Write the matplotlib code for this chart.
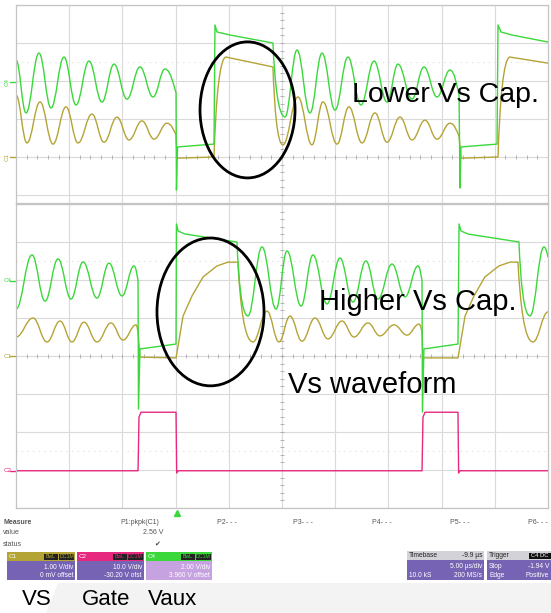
import numpy as np
import matplotlib
matplotlib.use("Agg")
import matplotlib.pyplot as plt
from matplotlib.path import Path
from matplotlib.patches import PathPatch, Ellipse, Rectangle, Polygon

plt.rcParams['font.family'] = ['Liberation Sans', 'DejaVu Sans']

W, H = 551, 613

# channel settings (V/div, offset V)
c1_scale, c1_offset = 1.0, 0.0
c2_scale, c2_offset = 10.0, -30.20
c4_scale, c4_offset = 2.0, 3.960

# traces: (time us, volts, segment kind)  s = ringing, e = ease out, r = edge with rounding, l = line
# upper shot: lower Vs cap
top_c4 = [
    (0.00, 1.15, 'l'), (0.94, -1.64, 's'), (2.16, 1.51, 's'), (3.29, -1.38, 's'),
    (4.51, 1.30, 's'), (5.64, -1.22, 's'), (6.86, 1.09, 's'), (8.08, -1.07, 's'),
    (9.21, 0.93, 's'), (10.43, -0.91, 's'), (11.65, 0.78, 's'), (12.88, -0.80, 's'),
    (14.00, 0.67, 's'), (15.04, -0.59, 'e'), (15.08, -5.70, 'l'), (15.18, -3.43, 'l'),
    (18.61, -3.28, 'l'), (18.70, 2.99, 'l'), (18.89, 2.62, 'l'), (20.11, 2.46, 'l'),
    (24.15, 2.04, 'l'), (25.28, -1.85, 'r'), (26.41, 1.67, 's'), (27.63, -1.64, 's'),
    (28.76, 1.51, 's'), (29.98, -1.49, 's'), (31.20, 1.30, 's'), (32.42, -1.22, 's'),
    (33.65, 1.09, 's'), (34.87, -1.07, 's'), (35.90, 0.93, 's'), (37.22, -0.91, 's'),
    (38.34, 0.78, 's'), (39.57, -0.80, 's'), (40.79, 0.62, 's'), (41.64, -0.70, 'e'),
    (41.73, -5.59, 'l'), (41.82, -3.43, 'l'), (45.21, -3.28, 'l'), (45.30, 2.99, 'l'),
    (45.58, 2.62, 'l'), (46.62, 2.46, 'l'), (50.00, 2.09, 'l'),
]
top_c1 = [
    (0.00, 1.63, 'l'), (1.03, 0.37, 's'), (2.26, 1.45, 's'), (3.48, 0.34, 's'),
    (4.70, 1.32, 's'), (5.83, 0.37, 's'), (7.14, 1.13, 's'), (8.27, 0.39, 's'),
    (9.49, 1.05, 's'), (10.62, 0.45, 's'), (11.84, 0.95, 's'), (12.97, 0.47, 's'),
    (14.19, 0.89, 's'), (15.04, 0.58, 'e'), (15.13, -0.03, 'l'), (18.61, 0.00, 'l'),
    (19.74, 2.63, 'r'), (24.15, 2.37, 'l'), (25.09, 0.32, 'r'), (26.50, 1.58, 's'),
    (27.82, 0.32, 's'), (28.85, 1.45, 's'), (30.17, 0.34, 's'), (31.29, 1.32, 's'),
    (32.52, 0.37, 's'), (33.74, 1.16, 's'), (34.87, 0.39, 's'), (36.09, 1.05, 's'),
    (37.22, 0.45, 's'), (38.44, 0.97, 's'), (39.57, 0.47, 's'), (40.79, 0.89, 's'),
    (41.64, 0.55, 'e'), (41.82, -0.03, 'l'), (45.30, 0.00, 'l'), (46.43, 2.63, 'r'),
    (50.00, 2.47, 'l'),
]

# lower shot: higher Vs cap
bot_c4 = [
    (0.00, -1.49, 'l'), (1.50, 1.36, 's'), (2.73, -1.07, 's'), (3.95, 1.15, 's'),
    (5.17, -0.96, 's'), (6.30, 0.99, 's'), (7.61, -0.91, 's'), (8.74, 0.93, 's'),
    (9.96, -0.80, 's'), (11.09, 0.78, 's'), (11.47, -0.01, 'e'), (11.51, -6.75, 'l'),
    (11.65, -3.59, 'l'), (15.04, -3.33, 'l'), (15.08, 2.99, 'l'), (15.23, 2.62, 'l'),
    (15.88, 2.46, 'l'), (20.77, 2.04, 'l'), (21.80, -1.85, 'r'), (23.12, 1.78, 's'),
    (24.44, -1.49, 's'), (25.47, 1.57, 's'), (26.79, -1.33, 's'), (27.91, 1.36, 's'),
    (29.23, -1.22, 's'), (30.45, 1.20, 's'), (31.67, -1.12, 's'), (32.89, 1.04, 's'),
    (34.02, -0.96, 's'), (35.34, 0.88, 's'), (36.56, -0.85, 's'), (37.78, 0.78, 's'),
    (38.16, -0.01, 'e'), (38.20, -6.91, 'l'), (38.34, -3.59, 'l'), (41.54, -3.33, 'l'),
    (41.64, 2.99, 'l'), (41.82, 2.62, 'l'), (42.48, 2.46, 'l'), (47.27, 2.04, 'l'),
    (48.31, -1.85, 'r'), (49.62, 1.78, 's'), (50.00, 1.25, 'e'),
]
bot_c1 = [
    (0.00, 0.50, 'l'), (1.60, 1.00, 's'), (2.91, 0.37, 's'), (4.14, 0.92, 's'),
    (5.26, 0.37, 's'), (6.39, 0.89, 's'), (7.61, 0.37, 's'), (8.93, 0.87, 's'),
    (10.06, 0.42, 's'), (11.28, 0.82, 's'), (11.47, 0.63, 'e'), (11.65, -0.03, 'l'),
    (15.04, -0.05, 'l'), (15.23, 0.26, 'l'), (15.70, 1.05, 'l'), (16.54, 1.58, 'l'),
    (17.58, 2.08, 'l'), (18.89, 2.37, 'l'), (19.92, 2.47, 'l'), (20.86, 2.47, 'l'),
    (22.27, 0.37, 'r'), (23.59, 1.18, 's'), (24.72, 0.37, 's'), (25.75, 1.05, 's'),
    (26.88, 0.39, 's'), (28.10, 1.00, 's'), (29.32, 0.45, 's'), (30.64, 0.92, 's'),
    (31.77, 0.50, 's'), (33.08, 0.87, 's'), (34.21, 0.53, 's'), (35.53, 0.82, 's'),
    (36.75, 0.55, 's'), (37.88, 0.84, 's'), (38.16, 0.63, 'e'), (38.25, -0.05, 'l'),
    (41.54, -0.05, 'l'), (41.73, 0.26, 'l'), (42.20, 1.05, 'l'), (43.04, 1.58, 'l'),
    (44.07, 2.08, 'l'), (45.39, 2.37, 'l'), (46.43, 2.47, 'l'), (47.18, 2.47, 'l'),
    (48.59, 0.37, 'r'), (50.00, 1.16, 's'),
]
bot_c2 = [
    (0.00, 0.0, 'l'), (11.47, 0.0, 'l'), (11.56, 14.1, 'l'), (11.75, 15.4, 'l'),
    (15.04, 15.4, 'l'), (15.10, -0.6, 'l'), (15.23, 0.0, 'l'), (38.16, 0.0, 'l'),
    (38.25, 14.1, 'l'), (38.44, 15.4, 'l'), (41.54, 15.4, 'l'), (41.60, -0.6, 'l'),
    (41.73, 0.0, 'l'), (50.00, 0.0, 'l'),
]

measure_slots = ['P2- - -', 'P3- - -', 'P4- - -', 'P5- - -', 'P6- - -']
channel_names = ['C1', 'C2', 'C4']
channel_vdiv = ['1.00 V/div', '10.0 V/div', '2.00 V/div']
channel_ofst = ['0 mV offset', '-30.20 V ofst', '3.960 V offset']

GREEN = '#3ad83a'
YELLOW = '#b4a436'
MAGENTA = '#e6287f'
GRID = '#dadada'


def draw_trace(ax, pts, scale, offset, color, lw=1.0):
    t = [p[0] for p in pts]
    y = [(p[1] + offset) / scale for p in pts]
    verts = [(t[0], y[0])]
    codes = [Path.MOVETO]
    for i in range(1, len(pts)):
        x0, y0, x1, y1 = t[i - 1], y[i - 1], t[i], y[i]
        dx, dy = x1 - x0, y1 - y0
        k = pts[i][2]
        if k == 's':
            ctrl = [(x0 + 0.4 * dx, y0), (x1 - 0.4 * dx, y1)]
        elif k == 'e':
            ctrl = [(x0 + 0.5 * dx, y0), (x1 - 0.2 * dx, y1 - 0.3 * dy)]
        elif k == 'r':
            ctrl = [(x0 + 0.15 * dx, y0 + 0.55 * dy), (x1 - 0.55 * dx, y1)]
        else:
            verts.append((x1, y1))
            codes.append(Path.LINETO)
            continue
        verts += ctrl + [(x1, y1)]
        codes += [Path.CURVE4] * 3
    ax.add_patch(PathPatch(Path(verts, codes), fill=False, edgecolor=color, lw=lw,
                           joinstyle='round', capstyle='round', zorder=2))


def scope_axes(rect, ylo, yhi):
    ax = fig.add_axes(rect)
    ax.set_xlim(0, 50)
    ax.set_ylim(ylo, yhi)
    ax.set_xticks([])
    ax.set_yticks([])
    for s in ax.spines.values():
        s.set_color('#c4c4c4')
        s.set_linewidth(0.9)
    for xv in range(5, 50, 5):
        ax.axvline(xv, color=GRID, lw=0.8, zorder=0)
    for yv in range(int(np.ceil(ylo)), int(np.floor(yhi)) + 1):
        ax.axhline(yv, color=GRID, lw=0.8, zorder=0)
    for yv in (-2.5, 2.5):
        ax.axhline(yv, color='#dcdcdc', lw=0.8, ls=(0, (1, 4)), zorder=0)
    # center axes with minor ticks
    ax.plot(np.arange(1, 50, 1.0), np.zeros(49), ls='none', marker='|', ms=2.5,
            color='#a8a8a8', mew=0.6, zorder=1)
    yt = np.arange(np.ceil(ylo * 5) / 5, yhi, 0.2)
    ax.plot(np.full(len(yt), 25.0), yt, ls='none', marker='_', ms=2.5,
            color='#a8a8a8', mew=0.6, zorder=1)
    return ax


def ch_marker(ax, yv, name, color, rot):
    ax.annotate(name, xy=(-0.016, yv), xycoords=('axes fraction', 'data'),
                fontsize=4.5, color=color, rotation=rot, ha='center', va='center',
                annotation_clip=False)
    ax.plot([-0.012, 0.0], [yv, yv], transform=ax.get_yaxis_transform(),
            color=color, lw=1.0, clip_on=False)


fig = plt.figure(figsize=(W / 100, H / 100), dpi=100)

# upper screenshot (cropped top part of the screen)
ax1 = scope_axes([16 / W, 1 - 203 / H, 532 / W, 198 / H], -1.21, 4.0)
draw_trace(ax1, top_c1, c1_scale, c1_offset, YELLOW)
draw_trace(ax1, top_c4, c4_scale, c4_offset, GREEN)
ch_marker(ax1, c4_offset / c4_scale, 'C4', GREEN, 90)
ch_marker(ax1, c1_offset / c1_scale, 'C1', YELLOW, 90)
ax1.add_patch(Ellipse((21.76, 1.24), 8.93, 3.58, fill=False, ec='black', lw=2, zorder=3))

# lower screenshot (full screen)
ax2 = scope_axes([16 / W, 1 - 508 / H, 532 / W, 304 / H], -4.0, 4.0)
draw_trace(ax2, bot_c1, c1_scale, c1_offset, YELLOW)
draw_trace(ax2, bot_c2, c2_scale, c2_offset, MAGENTA)
draw_trace(ax2, bot_c4, c4_scale, c4_offset, GREEN)
ch_marker(ax2, c4_offset / c4_scale, 'C4', GREEN, 0)
ch_marker(ax2, c1_offset / c1_scale, 'C1', YELLOW, 0)
ch_marker(ax2, c2_offset / c2_scale, 'C2', MAGENTA, 0)
ax2.add_patch(Ellipse((18.28, 1.16), 10.06, 3.89, fill=False, ec='black', lw=2, zorder=3))
ax2.plot([15.1], [-4.13], marker='^', ms=4, color=GREEN, clip_on=False)


def ftext(x, y, s, **kw):
    fig.text(x / W, 1 - y / H, s, **kw)


def frect(x0, y0, x1, y1, color, z=1):
    fig.add_artist(Rectangle((x0 / W, 1 - y1 / H), (x1 - x0) / W, (y1 - y0) / H,
                             transform=fig.transFigure, fc=color, ec='none', zorder=z))


# annotations
ftext(352, 102, 'Lower Vs Cap.', fontsize=20.5, va='baseline', zorder=5)
ftext(319, 310, 'Higher Vs Cap.', fontsize=21, va='baseline', zorder=5)
ftext(288, 393, 'Vs waveform', fontsize=21, va='baseline', zorder=5)

# light background swoosh at the bottom
fig.add_artist(Polygon([(46 / W, 0), (58 / W, 1 - 583 / H), (1, 1 - 583 / H), (1, 0)],
                       closed=True, transform=fig.transFigure, fc='#f3f3f3', ec='none', zorder=0))

# measure row
small = dict(fontsize=5, color='#555555', va='center')
ftext(3, 522, 'Measure', fontweight='bold', **small)
ftext(3, 533, 'value', **small)
ftext(3, 544, 'status', **small)
ftext(120, 522, 'P1:pkpk(C1)', **small)
ftext(163, 533, '2.56 V', ha='right', **small)
ftext(157, 544, '\u2714', ha='center', fontsize=5, color='#444444', va='center')
for xp, lab in zip([217, 293, 372, 450, 528], measure_slots):
    ftext(xp, 522, lab, **small)

# channel boxes
box_x = [(7, 75), (77, 144), (146, 212)]
head_cols = [YELLOW, MAGENTA, GREEN]
body_cols = ['#7663b3', '#7663b3', '#c7a2e0']
for (x0, x1), name, vd, of, hc, bc in zip(box_x, channel_names, channel_vdiv, channel_ofst,
                                           head_cols, body_cols):
    frect(x0, 552, x1, 561, hc)
    frect(x0, 561, x1, 580, bc)
    frect(x1 - 31, 553.5, x1 - 17, 559.5, '#222222', z=2)
    frect(x1 - 16, 553.5, x1 - 1, 559.5, '#222222', z=2)
    ftext(x0 + 2, 556.5, name, fontsize=4.5, color='white', va='center', zorder=3)
    ftext(x1 - 24, 556.5, 'BwL', fontsize=3.8, color=hc, ha='center', va='center', zorder=3)
    ftext(x1 - 8.5, 556.5, 'DC1M', fontsize=3.8, color=hc, ha='center', va='center', zorder=3)
    ftext(x1 - 2, 567.5, vd, fontsize=4.8, color='white', ha='right', va='center', zorder=3)
    ftext(x1 - 2, 575.5, of, fontsize=4.8, color='white', ha='right', va='center', zorder=3)

# timebase and trigger boxes
frect(407, 551, 484, 560, '#d2d2d8')
frect(407, 560, 484, 580, '#7663b3')
ftext(409, 555.5, 'Timebase', fontsize=4.8, color='#222222', va='center', zorder=3)
ftext(482, 555.5, '-9.9 \u00b5s', fontsize=4.8, color='#222222', ha='right', va='center', zorder=3)
ftext(482, 567, '5.00 \u00b5s/div', fontsize=4.8, color='white', ha='right', va='center', zorder=3)
ftext(409, 575.5, '10.0 kS', fontsize=4.8, color='white', va='center', zorder=3)
ftext(482, 575.5, '200 MS/s', fontsize=4.8, color='white', ha='right', va='center', zorder=3)

frect(487, 551, 551, 560, '#d2d2d8')
frect(487, 560, 551, 580, '#7663b3')
frect(529, 552.5, 551, 558.5, '#111111', z=2)
ftext(489, 555.5, 'Trigger', fontsize=4.8, color='#222222', va='center', zorder=3)
ftext(531, 555.5, 'C4 DC', fontsize=4.2, color='white', va='center', zorder=3)
ftext(489, 567, 'Stop', fontsize=4.8, color='white', va='center', zorder=3)
ftext(549, 567, '-1.94 V', fontsize=4.8, color='white', ha='right', va='center', zorder=3)
ftext(489, 575.5, 'Edge', fontsize=4.8, color='white', va='center', zorder=3)
ftext(549, 575.5, 'Positive', fontsize=4.8, color='white', ha='right', va='center', zorder=3)

# channel legend under the boxes
ftext(22, 605, 'VS', fontsize=16, va='baseline', zorder=5)
ftext(82, 605, 'Gate', fontsize=16, va='baseline', zorder=5)
ftext(148, 605, 'Vaux', fontsize=16, va='baseline', zorder=5)

fig.savefig('out.png', dpi=100)
